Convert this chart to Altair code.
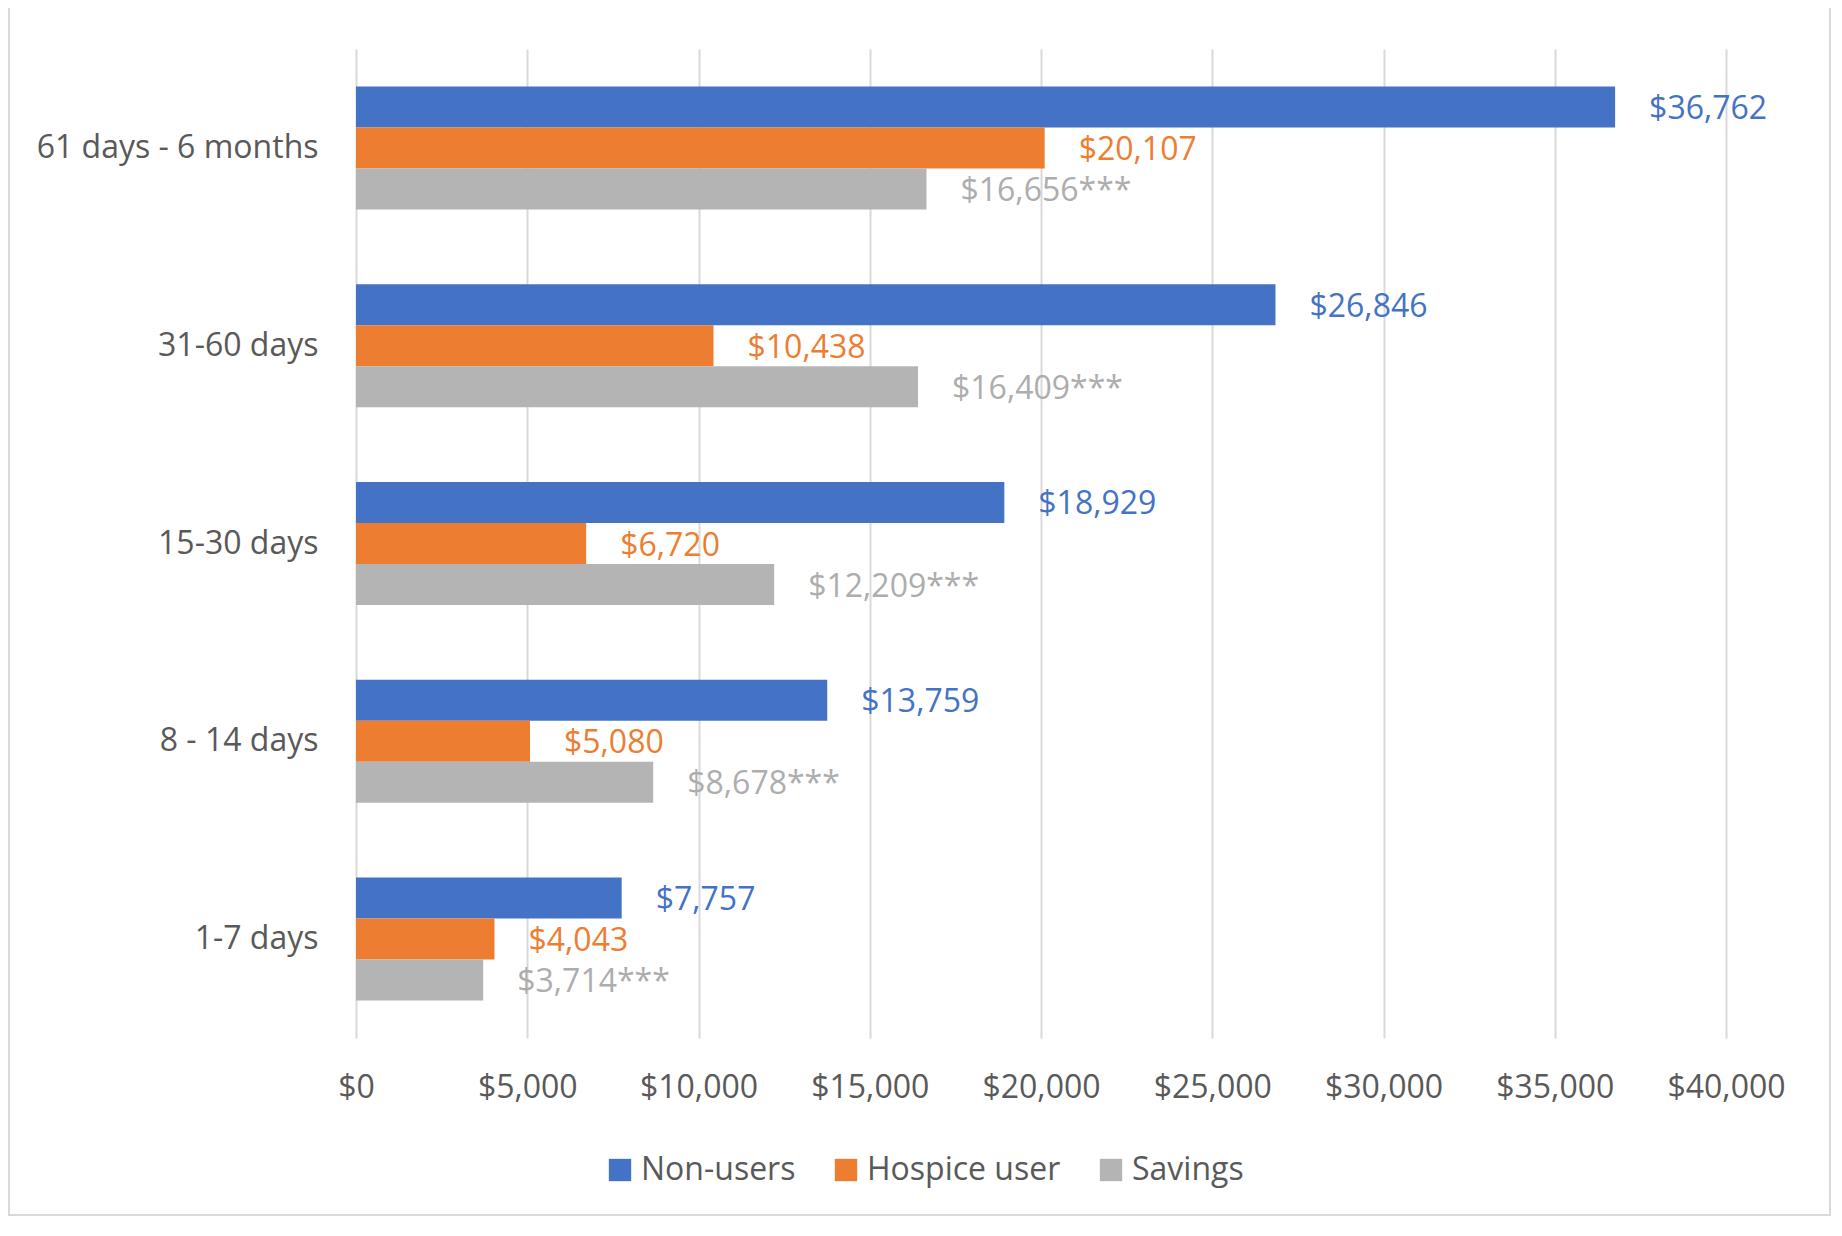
import altair as alt
import pandas as pd

categories = ["61 days - 6 months", "31-60 days", "15-30 days", "8 - 14 days", "1-7 days"]
series = ["Non-users", "Hospice user", "Savings"]
non_users = [36762, 26846, 18929, 13759, 7757]
hospice_user = [20107, 10438, 6720, 5080, 4043]
savings = [16656, 16409, 12209, 8678, 3714]
tick_values = [0, 5000, 10000, 15000, 20000, 25000, 30000, 35000, 40000]

bar_colors = ["#4472C4", "#ED7D31", "#B4B4B4"]
text_colors = ["#4472C4", "#ED7D31", "#ADADAD"]
suffix = ["", "", "***"]

rows = []
for si, (name, vals) in enumerate(zip(series, [non_users, hospice_user, savings])):
    for c, v in zip(categories, vals):
        rows.append({
            "category": c,
            "series": name,
            "value": v,
            "label": "${:,}".format(v) + suffix[si],
            "tcolor": text_colors[si],
        })
df = pd.DataFrame(rows)

FONT = "Open Sans"

y_enc = alt.Y(
    "category:N",
    sort=categories,
    scale=alt.Scale(paddingInner=0.378, paddingOuter=0.189),
    axis=alt.Axis(
        title=None, labelFontSize=32, labelColor="#595959", labelPadding=38,
        ticks=False, domain=False, grid=False, labelLimit=500, labelFont=FONT,
    ),
)
yoff_enc = alt.YOffset("series:N", sort=series, scale=alt.Scale(paddingInner=0, paddingOuter=0))
x_enc = alt.X(
    "value:Q",
    scale=alt.Scale(domain=[0, 40000], nice=False),
    axis=alt.Axis(
        title=None, values=tick_values, format="$,.0f", labelFontSize=32,
        labelColor="#595959", labelPadding=34, ticks=False, domain=False,
        grid=True, gridColor="#D9D9D9", gridWidth=2, labelFont=FONT,
        labelFlush=False,
    ),
)

bars = alt.Chart(df).mark_bar(size=41).encode(
    y=y_enc,
    yOffset=yoff_enc,
    x=x_enc,
    color=alt.Color(
        "series:N",
        sort=series,
        scale=alt.Scale(domain=series, range=bar_colors),
        legend=alt.Legend(
            title=None, orient="none", direction="horizontal",
            legendX=248, legendY=1105,
            symbolType="square", symbolSize=500, symbolStrokeWidth=0,
            labelFontSize=32, labelColor="#595959", labelFont=FONT,
            labelOffset=5, columnPadding=34, labelLimit=500,
        ),
    ),
)

labels = alt.Chart(df).mark_text(
    align="left", baseline="middle", dx=34, dy=2, fontSize=32, font=FONT,
).encode(
    y=alt.Y("category:N", sort=categories),
    yOffset=alt.YOffset("series:N", sort=series),
    x=alt.X("value:Q"),
    text="label:N",
    color=alt.Color("tcolor:N", scale=None),
)

border = alt.Chart(pd.DataFrame({"b": [1]})).mark_rect(
    fill=None, stroke="#D9D9D9", strokeWidth=2, clip=False,
).encode(
    x=alt.value(-347), x2=alt.value(1474),
    y=alt.value(-44), y2=alt.value(1166),
)

chart = alt.layer(border, bars, labels).properties(
    width=1370, height=989,
    autosize=alt.AutoSizeParams(type="none"),
    padding={"left": 348, "top": 41, "right": 106, "bottom": 180},
    background="white",
).configure_view(stroke=None).configure_text(font=FONT)

chart.save("out.html", embed_options={"renderer": "svg", "actions": False})
